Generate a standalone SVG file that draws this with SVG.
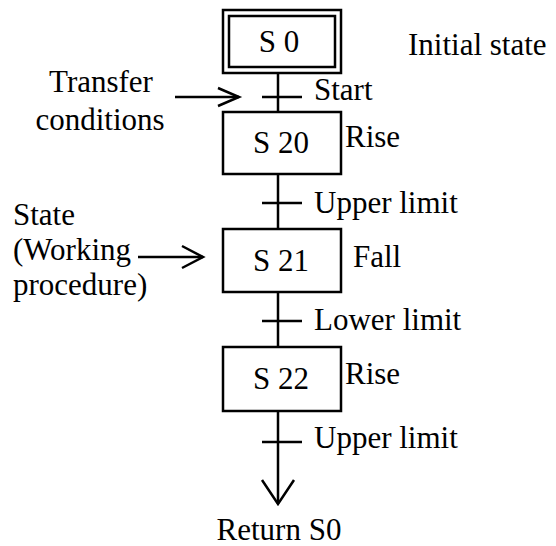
<svg xmlns="http://www.w3.org/2000/svg" width="556" height="546" viewBox="0 0 556 546">
<style>
.b{fill:#fff;stroke:#000;stroke-width:2.5}
.l{stroke:#000;stroke-width:2.5;fill:none}
.t{font-family:"Liberation Serif","Times New Roman",serif;font-size:31px;fill:#000}
.c{text-anchor:middle}
</style>
<rect width="556" height="546" fill="#fff"/>
<g id="connectors">
<line class="l" x1="278" y1="73" x2="278" y2="112"/>
<line class="l" x1="262" y1="97" x2="302" y2="97"/>
<line class="l" x1="278" y1="174" x2="278" y2="229"/>
<line class="l" x1="262" y1="203" x2="302" y2="203"/>
<line class="l" x1="278" y1="292" x2="278" y2="347"/>
<line class="l" x1="262" y1="321" x2="302" y2="321"/>
<line class="l" x1="278" y1="411" x2="278" y2="504"/>
<line class="l" x1="262" y1="442" x2="302" y2="442"/>
<polyline class="l" points="262,480 278,504 294,480"/>
<line class="l" x1="175" y1="97" x2="239" y2="97"/>
<polyline class="l" points="218,88 239,97 218,106"/>
<line class="l" x1="138" y1="257" x2="203" y2="257"/>
<polyline class="l" points="182,246 203,257 182,268"/>
</g>
<g id="S0">
<rect class="b" x="223" y="10" width="118" height="63"/>
<rect class="b" x="229" y="16" width="106" height="51"/>
<text class="t c" x="279" y="52">S 0</text>
</g>
<g id="S20">
<rect class="b" x="223" y="112" width="118" height="62"/>
<text class="t c" x="281" y="153">S 20</text>
</g>
<g id="S21">
<rect class="b" x="223" y="229" width="118" height="63"/>
<text class="t c" x="281" y="271">S 21</text>
</g>
<g id="S22">
<rect class="b" x="223" y="347" width="118" height="64"/>
<text class="t c" x="281" y="389">S 22</text>
</g>
<g id="labels">
<text class="t" x="408" y="55">Initial state</text>
<text class="t" x="314" y="100">Start</text>
<text class="t" x="345" y="147">Rise</text>
<text class="t" x="314" y="213">Upper limit</text>
<text class="t" x="353" y="267">Fall</text>
<text class="t" x="314" y="330">Lower limit</text>
<text class="t" x="345" y="384">Rise</text>
<text class="t" x="314" y="448">Upper limit</text>
<text class="t c" x="279" y="540">Return S0</text>
<text class="t c" x="101" y="92">Transfer</text>
<text class="t c" x="100" y="130">conditions</text>
<text class="t" x="13" y="225">State</text>
<text class="t" x="13" y="260">(Working</text>
<text class="t" x="13" y="295">procedure)</text>
</g>
</svg>
